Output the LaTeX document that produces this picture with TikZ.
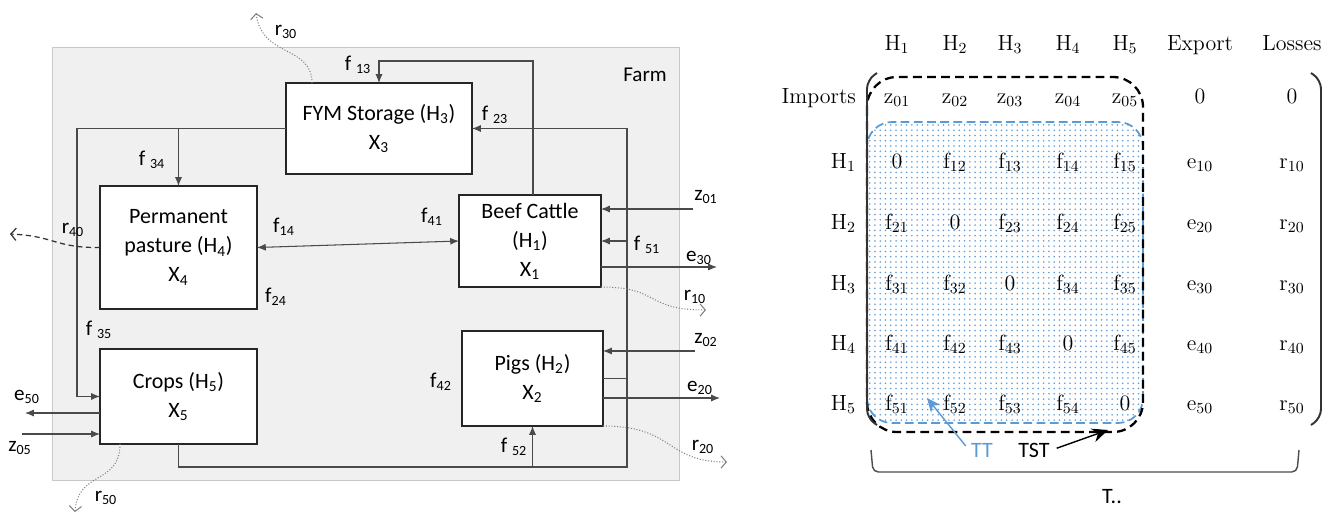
\documentclass[tikz,border=0pt]{standalone}
\usepackage{fontspec}
\newfontfamily\calibri{Carlito}
\usepackage{tikz}
\usetikzlibrary{arrows.meta,positioning,calc,patterns}

\definecolor{farmgray}{HTML}{F0F0F0}
\definecolor{farmedge}{HTML}{C8C8C8}
\definecolor{wire}{HTML}{4A4A4A}
\definecolor{ttblue}{HTML}{5B9BD5}

\begin{document}
\begin{tikzpicture}[
  x=0.02cm, y=-0.02cm,
  >={Latex[length=5pt,width=4pt]},
  sect/.style={rectangle, draw=black!85, fill=white, line width=0.8pt, align=center,
               inner sep=0pt, outer sep=0pt, font=\calibri\fontsize{12.5}{16.5}\selectfont},
  flow/.style={->, draw=wire, line width=0.6pt},
  loss/.style={-{Straight Barb[length=3pt,width=7pt]}, draw=gray, densely dotted, line width=0.6pt},
  spill/.style={-{Straight Barb[length=3pt,width=7pt]}, draw=black!80, dash pattern=on 3pt off 2pt, line width=0.7pt},
  fl/.style={font=\calibri\fontsize{12}{13}\selectfont, inner sep=1pt},
  hd/.style={font=\fontsize{12.5}{14}\selectfont, inner sep=1pt, anchor=base},
  cell/.style={font=\fontsize{12.5}{14}\selectfont, inner sep=1pt, anchor=base},
  ttbox/.style={draw=ttblue, line width=1pt, dash pattern=on 5pt off 2.5pt, rounded corners=0.5cm,
                pattern=dots, pattern color=ttblue},
  tstbox/.style={draw=black, line width=1.3pt, dash pattern=on 5pt off 3pt, rounded corners=0.6cm},
  paren/.style={draw=black!80, line width=1.1pt, rounded corners=5pt},
]

\useasboundingbox (0,0) rectangle (1333,515);

% farm
\draw[fill=farmgray, draw=farmedge] (52,47) rectangle (679,480);
\node[fl] (farm) at (645,75) {Farm};

\node[sect, minimum width=3.72cm, minimum height=1.82cm] (fym) at (379,128.5) {FYM Storage (H\textsubscript{3})\\X\textsubscript{3}};
\node[sect, minimum width=3.14cm, minimum height=2.46cm] (pasture) at (178.5,247.5) {Permanent\\pasture (H\textsubscript{4})\\X\textsubscript{4}};
\node[sect, minimum width=3.14cm, minimum height=1.9cm, below=0.8cm of pasture] (crops) {Crops (H\textsubscript{5})\\X\textsubscript{5}};
\node[sect, minimum width=2.84cm, minimum height=1.84cm] (beef) at (530,241) {Beef Cattle\\(H\textsubscript{1})\\X\textsubscript{1}};
\node[sect, minimum width=2.82cm, minimum height=1.9cm, below=0.88cm of beef, xshift=0.05cm] (pigs) {Pigs (H\textsubscript{2})\\X\textsubscript{2}};

\coordinate (loopL) at (77,128.5);
\coordinate (loopR) at (627,467);
\coordinate (z01in) at (693,209);
\coordinate (e30out) at (717,267);
\coordinate (z02in) at (695,351);
\coordinate (e20out) at (720,398);
\coordinate (e50out) at (25,413);
\coordinate (z05in) at (22,434);
\coordinate (r10end) at (706,310);
\coordinate (r20end) at (727,462);
\coordinate (r30end) at (256,13);
\coordinate (r40end) at (10,234);
\coordinate (r50end) at (75,512);

% internal flows
\draw[flow] ([xshift=0.06cm]beef.north) -- ++(0,-134) -| (fym.north);
\draw[flow] (pigs.east) -- (pigs.east -| loopR) |- (fym.east);
\draw[flow] (fym.west) -- (loopL) |- (crops.west);
\draw[flow] (pasture.north |- fym.west) -- (pasture.north);
\draw[flow, <->] (pasture.east) -- (beef.west);
\draw[flow] (crops.south) |- (loopR) |- (beef.east);
\draw[flow] (pigs.south |- loopR) -- (pigs.south);

% imports and exports
\draw[flow] (z01in) -- (beef.east |- z01in);
\draw[flow] (beef.east |- e30out) -- (e30out);
\draw[flow] (z02in) -- (pigs.east |- z02in);
\draw[flow] (pigs.east |- e20out) -- (e20out);
\draw[flow] (crops.west |- e50out) -- (e50out);
\draw[flow] (z05in) -- (crops.west |- z05in);

% losses
\draw[loss] (beef.south east) .. controls (660,287) and (645,310) .. (r10end);
\draw[loss] (pigs.south east) .. controls (675,426) and (665,462) .. (r20end);
\draw[loss] ([xshift=0.52cm]fym.north west) .. controls (312,45) and (262,58) .. (r30end);
\draw[spill] (pasture.west) .. controls (55,248) and (55,236) .. (r40end);
\draw[loss] ([xshift=0.4cm]crops.south west) .. controls (120,485) and (78,470) .. (r50end);

% flow labels
\node[fl] (lf13) at (358,65) {f \textsubscript{13}};
\node[fl] (lf23) at (495,115) {f \textsubscript{23}};
\node[fl] (lf34) at (152,160) {f \textsubscript{34}};
\node[fl] (lf35) at (99,330) {f \textsubscript{35}};
\node[fl] (lf14) at (284,227) {f\textsubscript{14}};
\node[fl] (lf41) at (432,217) {f\textsubscript{41}};
\node[fl] (lf24) at (276,297) {f\textsubscript{24}};
\node[fl] (lf42) at (441,382) {f\textsubscript{42}};
\node[fl] (lf51) at (647,245) {f \textsubscript{51}};
\node[fl] (lf52) at (514,447) {f \textsubscript{52}};
\node[fl] (lz01) at (706,197) {z\textsubscript{01}};
\node[fl] (le30) at (699,258) {e\textsubscript{30}};
\node[fl] (lr10) at (695,297) {r\textsubscript{10}};
\node[fl] (lz02) at (706,340) {z\textsubscript{02}};
\node[fl] (le20) at (700,388) {e\textsubscript{20}};
\node[fl] (lr20) at (703,447) {r\textsubscript{20}};
\node[fl] (lr30) at (286,32) {r\textsubscript{30}};
\node[fl] (lr40) at (73,230) {r\textsubscript{40}};
\node[fl] (le50) at (27,397) {e\textsubscript{50}};
\node[fl] (lz05) at (20,448) {z\textsubscript{05}};
\node[fl] (lr50) at (106,498) {r\textsubscript{50}};

% matrix
\draw[ttbox] (867,122) rectangle (1143,423);
\draw[tstbox] (867,77) rectangle (1143,432);
\draw[paren] (877,73) -- (867,80) -- (867,418) -- (877,425);
\draw[paren] (1311,73) -- (1321,80) -- (1321,418) -- (1311,425);

\foreach \k/\xx in {1/897,2/955,3/1010,4/1068,5/1125}
  \node[hd] (colH\k) at (\xx,50) {H\textsubscript{\k}};
\node[hd] (colE) at (1200,50) {Export};
\node[hd] (colL) at (1292,50) {Losses};

\node[hd, anchor=base east] (rowI) at (858,103) {Imports};
\foreach \j/\xx in {1/897,2/955,3/1010,4/1068,5/1125}
  \node[cell] (z\j) at (\xx,103) {z\textsubscript{0\j}};
\node[cell] (zE) at (1200,103) {0};
\node[cell] (zL) at (1292,103) {0};

\foreach \i/\yy in {1/168,2/229,3/290,4/350,5/410} {
  \node[hd, anchor=base east] (row\i) at (858,\yy) {H\textsubscript{\i}};
  \foreach \j/\xx in {1/897,2/955,3/1010,4/1068,5/1125}
    \node[cell] (f\i\j) at (\xx,\yy) {\ifnum\i=\j\relax 0\else f\textsubscript{\i\j}\fi};
  \node[cell] (e\i) at (1200,\yy) {e\textsubscript{\i0}};
  \node[cell] (r\i) at (1292,\yy) {r\textsubscript{\i0}};
}

\coordinate (ttpt) at (927,398);
\coordinate (tstpt) at (1108,430);
\node[fl, font=\calibri\fontsize{12.5}{14}\selectfont, text=ttblue] (tt) at (982,450) {TT};
\node[fl, font=\calibri\fontsize{12.5}{14}\selectfont] (tst) at (1034,450) {TST};
\draw[ttblue, line width=0.8pt, -{Stealth[length=8pt,width=7pt]}, shorten <=3pt] (tt.west) -- (ttpt);
\draw[black, line width=0.8pt, -{Stealth[length=9pt,width=8pt]}, shorten <=3pt] (tst.east) -- (tstpt);

\draw[black!70, line width=0.8pt, rounded corners=3pt] (871,450) -- (873,472) -- (1297,472) -- (1299,450);
\node[fl, font=\calibri\fontsize{12.5}{14}\selectfont] (total) at (1112,497) {T..};

\end{tikzpicture}
\end{document}
